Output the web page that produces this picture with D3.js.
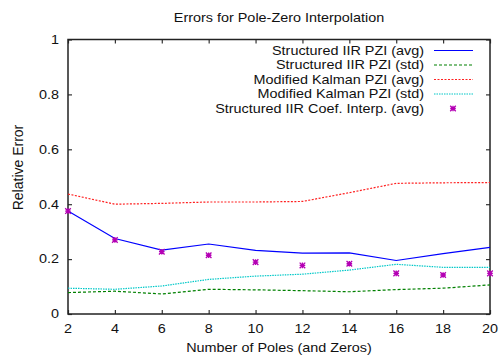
<!DOCTYPE html>
<html>
<head>
<meta charset="utf-8">
<script src="https://cdn.jsdelivr.net/npm/d3@7"></script>
<style>
  body { margin: 0; background: #fff; }
  text { font-family: "Liberation Sans", Arial, Helvetica, sans-serif; font-size: 12px; fill: #111; }
</style>
</head>
<body>
<div id="chart"></div>
<script>
'use strict';

var poles = [2, 4, 6, 8, 10, 12, 14, 16, 18, 20];
var iirAvg = [0.375, 0.275, 0.233, 0.255, 0.232, 0.222, 0.223, 0.195, 0.220, 0.243];
var iirStd = [0.078, 0.083, 0.073, 0.090, 0.088, 0.085, 0.081, 0.089, 0.094, 0.106];
var kalmanAvg = [0.437, 0.400, 0.403, 0.408, 0.408, 0.410, 0.442, 0.476, 0.478, 0.479];
var kalmanStd = [0.094, 0.090, 0.102, 0.126, 0.138, 0.145, 0.160, 0.181, 0.170, 0.170];
var coefAvg = [0.375, 0.270, 0.227, 0.214, 0.189, 0.177, 0.183, 0.148, 0.142, 0.148];
var yTicks = [0, 0.2, 0.4, 0.6, 0.8, 1];

var series = [
  {name: "Structured IIR PZI (avg)", values: iirAvg, color: "#0000ff", dash: null},
  {name: "Structured IIR PZI (std)", values: iirStd, color: "#008000", dash: "3,2"},
  {name: "Modified Kalman PZI (avg)", values: kalmanAvg, color: "#ff2020", dash: "2,1.5"},
  {name: "Modified Kalman PZI (std)", values: kalmanStd, color: "#00c8c8", dash: "1.5,1"}
];
var points = {name: "Structured IIR Coef. Interp. (avg)", values: coefAvg, color: "#b400b4"};

var width = 499, height = 358;
var margin = {top: 39.5, right: 9, bottom: 44, left: 68};
var stretch = 1.2; // text in the picture is wider than it is tall

var svg = d3.select("#chart").append("svg")
  .attr("width", width)
  .attr("height", height);

var x = d3.scaleLinear().domain([2, 20]).range([margin.left, width - margin.right]);
var y = d3.scaleLinear().domain([0, 1]).range([height - margin.bottom, margin.top]);

function label(g, px, py, str, anchor) {
  return g.append("text")
    .attr("transform", "translate(" + px + "," + py + ") scale(" + stretch + ",1)")
    .attr("text-anchor", anchor)
    .text(str);
}

// axes, ticks inward on all four sides
var fmt = d3.format("~g");
svg.append("g")
  .attr("transform", "translate(0," + y(0) + ")")
  .call(d3.axisBottom(x).tickValues(poles).tickSize(-4).tickFormat(""));
svg.append("g")
  .attr("transform", "translate(0," + y(1) + ")")
  .call(d3.axisTop(x).tickValues(poles).tickSize(-4).tickFormat(""));
svg.append("g")
  .attr("transform", "translate(" + x(2) + ",0)")
  .call(d3.axisLeft(y).tickValues(yTicks).tickSize(-4).tickFormat(""));
svg.append("g")
  .attr("transform", "translate(" + x(20) + ",0)")
  .call(d3.axisRight(y).tickValues(yTicks).tickSize(-4).tickFormat(""));
svg.selectAll(".domain").remove();
svg.selectAll(".tick line").attr("stroke", "#333").attr("stroke-width", 1.2);

svg.append("rect")
  .attr("x", x(2)).attr("y", y(1))
  .attr("width", x(20) - x(2)).attr("height", y(0) - y(1))
  .attr("fill", "none").attr("stroke", "#222").attr("stroke-width", 1.5);

poles.forEach(function(d) { label(svg, x(d), 333, fmt(d), "middle"); });
yTicks.forEach(function(d) { label(svg, 59, y(d) + 4.3, fmt(d), "end"); });

label(svg, (x(2) + x(20)) / 2, 22, "Errors for Pole-Zero Interpolation", "middle");
label(svg, (x(2) + x(20)) / 2, 352, "Number of Poles (and Zeros)", "middle");
svg.append("text")
  .attr("transform", "translate(22.7,167.5) rotate(-90)")
  .attr("text-anchor", "middle")
  .style("font-size", "14px")
  .text("Relative Error");

var line = d3.line()
  .x(function(d, i) { return x(poles[i]); })
  .y(function(d) { return y(d); });

series.forEach(function(s) {
  svg.append("path")
    .attr("d", line(s.values))
    .attr("fill", "none")
    .attr("stroke", s.color)
    .attr("stroke-width", 1.2)
    .attr("stroke-dasharray", s.dash);
});

function star(g, px, py) {
  var r = 2.8;
  g.append("path")
    .attr("d", "M" + (px - r) + "," + py + "H" + (px + r) +
      "M" + px + "," + (py - r) + "V" + (py + r) +
      "M" + (px - r) + "," + (py - r) + "L" + (px + r) + "," + (py + r) +
      "M" + (px - r) + "," + (py + r) + "L" + (px + r) + "," + (py - r))
    .attr("stroke", points.color)
    .attr("stroke-width", 1.3)
    .attr("fill", "none");
}

points.values.forEach(function(d, i) { star(svg, x(poles[i]), y(d)); });

// legend
var legend = svg.append("g");
series.concat([points]).forEach(function(s, i) {
  var ly = 50.5 + i * 14.5;
  label(legend, 424, ly + 4.3, s.name, "end");
  if (s === points) {
    star(legend, 453, ly);
  } else {
    legend.append("line")
      .attr("x1", 434).attr("x2", 473)
      .attr("y1", ly).attr("y2", ly)
      .attr("stroke", s.color)
      .attr("stroke-width", 1.2)
      .attr("stroke-dasharray", s.dash);
  }
});
</script>
</body>
</html>
